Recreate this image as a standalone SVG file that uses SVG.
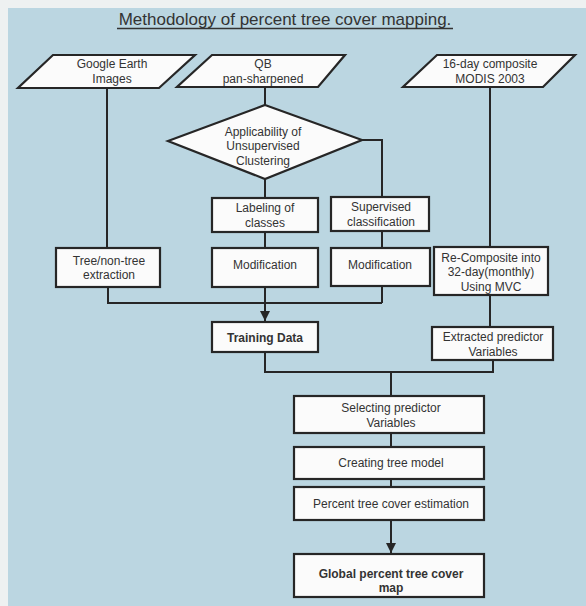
<svg xmlns="http://www.w3.org/2000/svg" width="586" height="606" viewBox="0 0 586 606">
<defs>
<style>
.nd{fill:#fbfbfb;stroke:#262626;stroke-width:2.2}
.tx{font-family:"Liberation Sans",Arial,sans-serif;font-size:12px;fill:#333;text-anchor:middle}
.b{font-weight:bold}
.cn{fill:none;stroke:#262626;stroke-width:2}
</style>
<marker id="ah" viewBox="0 0 10 10" refX="10" refY="5" markerWidth="5" markerHeight="5" orient="auto" markerUnits="strokeWidth">
<path d="M0,0 L10,5 L0,10 z" fill="#262626"/>
</marker>
</defs>
<rect x="0" y="0" width="586" height="606" fill="#eef1f1"/>
<rect x="8" y="8" width="578" height="598" fill="#bbd6e1"/>
<g id="title">
<text x="285" y="25" font-family="'Liberation Sans',Arial,sans-serif" font-size="17" fill="#333" text-anchor="middle">Methodology of percent tree cover mapping.</text>
<line x1="117" y1="28.5" x2="453" y2="28.5" stroke="#333" stroke-width="1.3"/>
</g>
<g id="connectors">
<path class="cn" d="M107,88 V248"/>
<path class="cn" d="M265,87 V105"/>
<path class="cn" d="M265,179 V198"/>
<path class="cn" d="M362,140 H382 V197"/>
<path class="cn" d="M265,232 V248"/>
<path class="cn" d="M382,231 V248"/>
<path class="cn" d="M490,87 V247"/>
<path class="cn" d="M108,287 V303 H382"/>
<path class="cn" d="M265,287 V303"/>
<path class="cn" d="M382,286 V303"/>
<path class="cn" d="M265,303 V321" marker-end="url(#ah)"/>
<path class="cn" d="M490,295 V327"/>
<path class="cn" d="M265,352 V372 H493 V360"/>
<path class="cn" d="M391,372 V396"/>
<path class="cn" d="M391,433 V447"/>
<path class="cn" d="M391,479 V487"/>
<path class="cn" d="M391,520 V553" marker-end="url(#ah)"/>
</g>
<g id="google">
<polygon class="nd" points="53,55 195,55 159,88 18,88"/>
<text class="tx" x="112" y="68">Google Earth</text>
<text class="tx" x="112" y="83">Images</text>
</g>
<g id="qb">
<polygon class="nd" points="212,55 345,55 318,87 177,87"/>
<text class="tx" x="263" y="68">QB</text>
<text class="tx" x="263" y="83">pan-sharpened</text>
</g>
<g id="modis">
<polygon class="nd" points="437,55 575,55 543,87 403,87"/>
<text class="tx" x="490" y="68">16-day composite</text>
<text class="tx" x="490" y="83">MODIS 2003</text>
</g>
<g id="diamond">
<polygon class="nd" points="265,105 362,140 265,179 168,141"/>
<text class="tx" x="263" y="136">Applicability of</text>
<text class="tx" x="263" y="150">Unsupervised</text>
<text class="tx" x="263" y="165">Clustering</text>
</g>
<g id="labeling">
<rect class="nd" x="212" y="198" width="106" height="34"/>
<text class="tx" x="265" y="212">Labeling of</text>
<text class="tx" x="265" y="227">classes</text>
</g>
<g id="supervised">
<rect class="nd" x="331" y="197" width="98" height="34"/>
<text class="tx" x="381" y="211">Supervised</text>
<text class="tx" x="381" y="226">classification</text>
</g>
<g id="tree">
<rect class="nd" x="56" y="248" width="104" height="39"/>
<text class="tx" x="109" y="265">Tree/non-tree</text>
<text class="tx" x="109" y="279">extraction</text>
</g>
<g id="mod1">
<rect class="nd" x="212" y="248" width="106" height="39"/>
<text class="tx" x="265" y="269">Modification</text>
</g>
<g id="mod2">
<rect class="nd" x="331" y="248" width="99" height="38"/>
<text class="tx" x="380" y="269">Modification</text>
</g>
<g id="recomposite">
<rect class="nd" x="434" y="247" width="114" height="48"/>
<text class="tx" x="491" y="262">Re-Composite into</text>
<text class="tx" x="491" y="276">32-day(monthly)</text>
<text class="tx" x="491" y="291">Using MVC</text>
</g>
<g id="training">
<rect class="nd" x="212" y="322" width="106" height="30"/>
<text class="tx b" x="265" y="342">Training Data</text>
</g>
<g id="extracted">
<rect class="nd" x="432" y="327" width="121" height="33"/>
<text class="tx" x="493" y="341">Extracted predictor</text>
<text class="tx" x="493" y="356">Variables</text>
</g>
<g id="selecting">
<rect class="nd" x="294" y="396" width="190" height="37"/>
<text class="tx" x="391" y="412">Selecting predictor</text>
<text class="tx" x="391" y="427">Variables</text>
</g>
<g id="creating">
<rect class="nd" x="294" y="447" width="190" height="32"/>
<text class="tx" x="391" y="467">Creating tree model</text>
</g>
<g id="percent">
<rect class="nd" x="294" y="487" width="190" height="33"/>
<text class="tx" x="391" y="508">Percent tree cover estimation</text>
</g>
<g id="global">
<rect class="nd" x="294" y="554" width="190" height="43"/>
<text class="tx b" x="391" y="578">Global percent tree cover</text>
<text class="tx b" x="391" y="592">map</text>
</g>
</svg>
